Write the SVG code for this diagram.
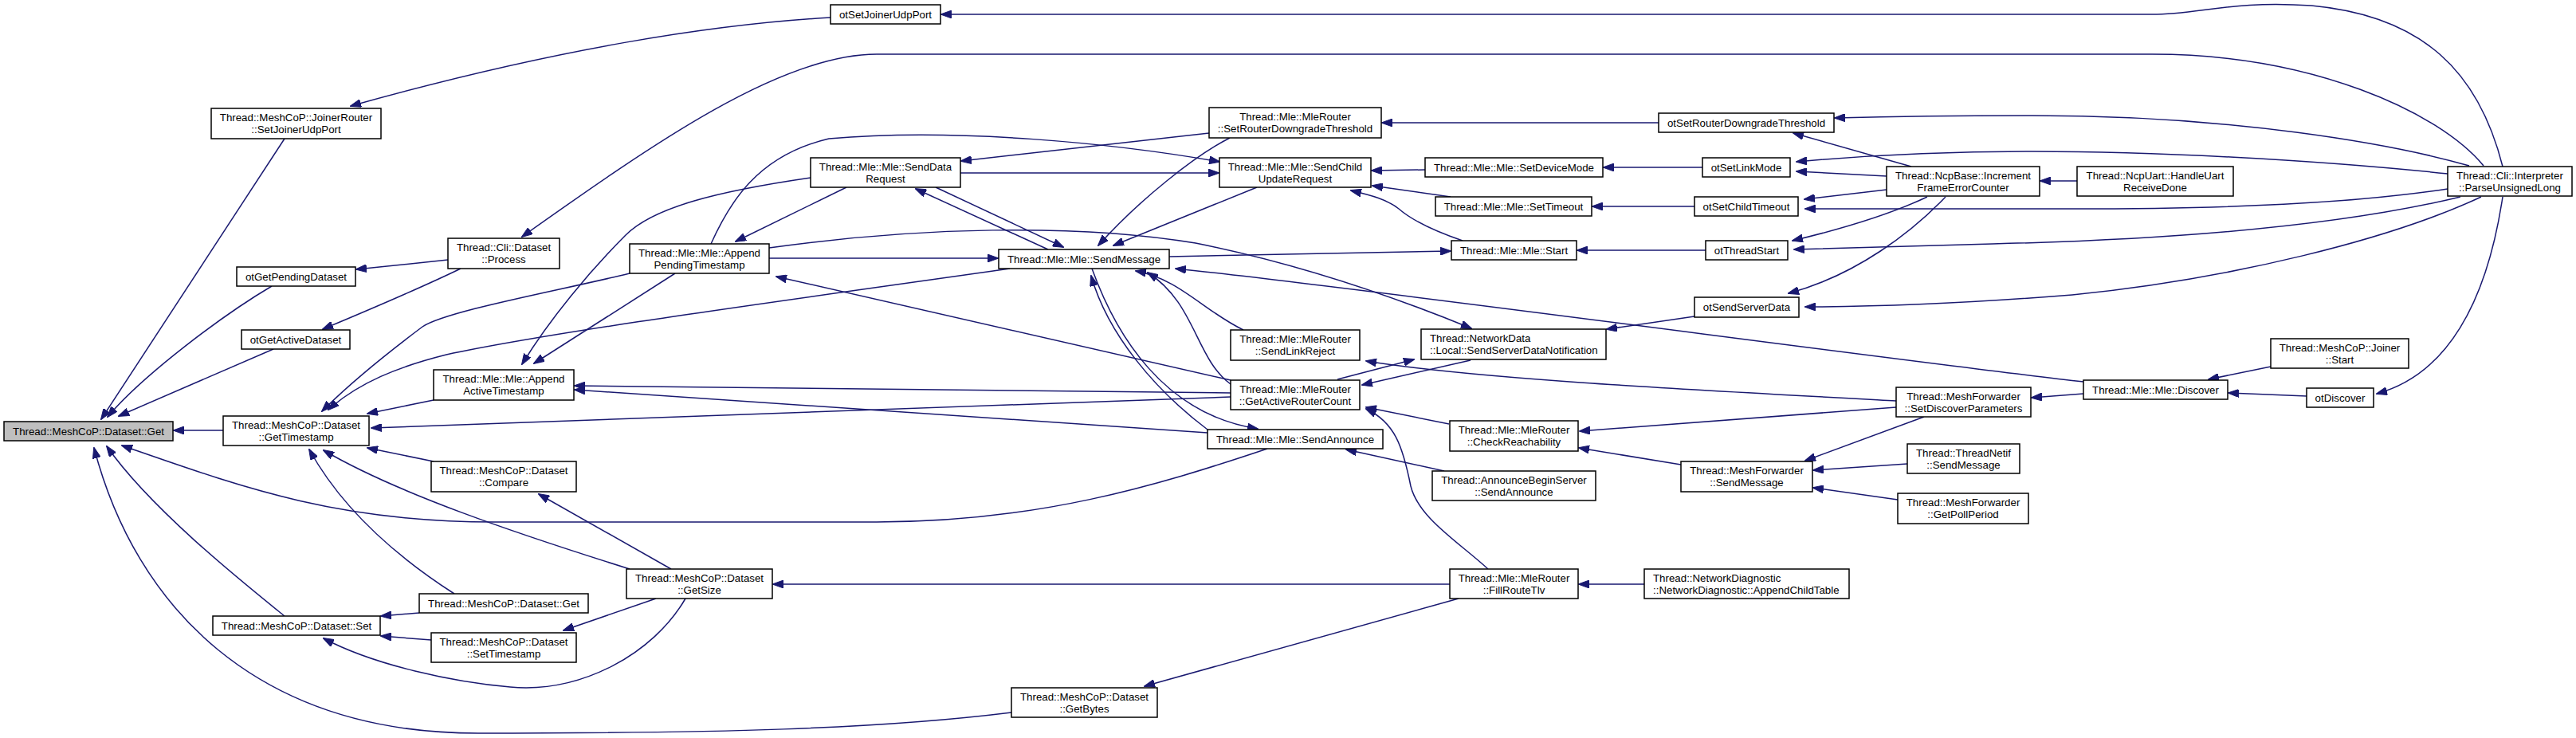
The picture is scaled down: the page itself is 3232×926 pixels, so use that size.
<svg xmlns="http://www.w3.org/2000/svg" width="3232" height="926" viewBox="0 0 3232 926">
<style>
.n rect{fill:#fff;stroke:#000;stroke-width:1.5}
.root rect{fill:#bfbfbf}
text{font-family:"Liberation Sans",Arial,Helvetica,sans-serif;font-size:13.3px;fill:#000;text-anchor:middle}
text.l{text-anchor:start}
.e path{fill:none;stroke:#191970;stroke-width:1.5;marker-end:url(#a)}
</style>
<defs>
<marker id="a" markerWidth="14" markerHeight="10" refX="13" refY="5" orient="auto" markerUnits="userSpaceOnUse"><path d="M0,0 L14,5 L0,10 z" fill="#191970" stroke="#191970" stroke-width="1"/></marker>
</defs>
<rect width="3232" height="926" fill="#fff"/>
<g class="e" id="edges">
<path d="M357,174 L127,526"/>
<path d="M341,359 C280,395 180,470 135,523"/>
<path d="M343,438 L149,522"/>
<path d="M280,540 L218,540"/>
<path d="M357,773 C310,735 190,640 134,560"/>
<path d="M1269,894 C1100,915 900,920 600,920 C320,920 170,760 118,562"/>
<path d="M1590,563 C1450,610 1300,655 1100,655 L620,655 C420,655 300,610 153,559"/>
<path d="M790,343 C700,365 560,390 530,410 C490,440 440,480 404,516"/>
<path d="M1267,337 C1000,375 700,415 560,445 C500,460 450,480 412,514"/>
<path d="M544,502 L461,519"/>
<path d="M1544,498 L466,537"/>
<path d="M544,579 L461,562"/>
<path d="M570,745 C500,700 430,640 388,564"/>
<path d="M790,714 C650,670 500,620 406,565"/>
<path d="M1017,223 C900,240 820,260 785,295 C740,340 690,400 655,457"/>
<path d="M847,343 L670,456"/>
<path d="M1062,235 L923,303"/>
<path d="M1544,477 L974,347"/>
<path d="M965,324 L1252,324"/>
<path d="M892,306 C915,255 950,195 1040,174 C1200,160 1400,180 1530,203"/>
<path d="M1205,217 L1529,217"/>
<path d="M1517,167 L1206,202"/>
<path d="M1543,173 C1500,195 1430,250 1378,308"/>
<path d="M1577,235 L1397,308"/>
<path d="M1174,235 L1334,310"/>
<path d="M1315,313 L1149,237"/>
<path d="M1560,414 C1510,390 1480,350 1425,340"/>
<path d="M1544,482 C1500,450 1500,380 1440,342"/>
<path d="M1515,539 C1450,490 1390,420 1369,346"/>
<path d="M1370,337 C1400,420 1460,520 1578,538"/>
<path d="M1467,322 L1820,315"/>
<path d="M965,311 C1150,285 1350,280 1500,305 C1650,335 1780,385 1846,412"/>
<path d="M2614,479 C2400,455 1700,360 1475,337"/>
<path d="M1678,476 L1774,451"/>
<path d="M1845,452 L1709,483"/>
<path d="M2379,503 C2100,488 1850,475 1714,453"/>
<path d="M1818,532 L1714,511"/>
<path d="M1867,714 C1830,680 1780,650 1770,610 C1760,560 1750,530 1714,513"/>
<path d="M1812,591 L1689,564"/>
<path d="M2081,154 L1734,154"/>
<path d="M1788,213 L1721,214"/>
<path d="M2136,210 L2012,210"/>
<path d="M1820,247 L1722,233"/>
<path d="M2126,259 L1998,259"/>
<path d="M1835,302 C1800,290 1770,275 1755,262 C1740,250 1720,245 1695,239"/>
<path d="M2140,314 L1979,314"/>
<path d="M2126,397 L2016,413"/>
<path d="M2398,209 L2250,167"/>
<path d="M2367,221 L2254,215"/>
<path d="M2367,238 L2264,250"/>
<path d="M2418,247 C2380,265 2320,285 2249,302"/>
<path d="M2441,247 C2400,290 2330,345 2244,368"/>
<path d="M2606,227 L2560,227"/>
<path d="M3140,209 C3110,90 3040,20 2900,7 C2800,0 2760,18 2700,18 L1181,18"/>
<path d="M3116,208 C3060,140 2900,68 2700,68 L1100,68 C980,68 820,180 655,297"/>
<path d="M3098,208 C3000,180 2800,145 2550,145 C2450,145 2380,146 2302,148"/>
<path d="M3071,218 C2900,200 2700,190 2550,190 C2420,190 2330,196 2254,203"/>
<path d="M3071,237 C2950,255 2800,262 2600,262 L2265,262"/>
<path d="M3087,247 C2950,280 2750,300 2500,306 L2251,313"/>
<path d="M3113,247 C3000,300 2800,350 2600,370 C2450,382 2350,385 2265,385"/>
<path d="M3140,247 C3120,380 3070,470 2982,494"/>
<path d="M2849,460 L2771,476"/>
<path d="M2894,497 L2796,493"/>
<path d="M2614,494 L2549,499"/>
<path d="M2379,511 L1982,541"/>
<path d="M2414,523 L2265,578"/>
<path d="M2393,582 L2275,590"/>
<path d="M2381,627 L2275,612"/>
<path d="M2109,583 L1981,562"/>
<path d="M2063,733 L1981,733"/>
<path d="M1819,733 L970,733"/>
<path d="M1830,751 L1436,861"/>
<path d="M842,714 L676,620"/>
<path d="M823,751 L707,791"/>
<path d="M860,751 C820,820 730,870 640,862 C570,856 470,835 406,801"/>
<path d="M526,769 L478,773"/>
<path d="M541,803 L478,798"/>
<path d="M562,326 L447,338"/>
<path d="M578,337 C520,365 460,390 405,413"/>
<path d="M1042,22 C900,30 700,60 440,133"/>
<path d="M1544,493 L721,484"/>
<path d="M1515,543 L721,489"/>
</g>
<g class="n root" id="n_get"><rect x="5" y="529" width="212" height="24"/><text x="111" y="545.5">Thread::MeshCoP::Dataset::Get</text></g>
<g class="n" id="n_gettimestamp"><rect x="280" y="522" width="183" height="37"/><text x="371.5" y="538">Thread::MeshCoP::Dataset</text><text x="371.5" y="552.5">::GetTimestamp</text></g>
<g class="n" id="n_set"><rect x="267" y="773" width="210" height="24"/><text x="372" y="789.5">Thread::MeshCoP::Dataset::Set</text></g>
<g class="n" id="n_joinerrouter"><rect x="265" y="136" width="213" height="38"/><text x="371.5" y="152">Thread::MeshCoP::JoinerRouter</text><text x="371.5" y="166.5">::SetJoinerUdpPort</text></g>
<g class="n" id="n_otgetpending"><rect x="297" y="335" width="149" height="24"/><text x="371.5" y="351.5">otGetPendingDataset</text></g>
<g class="n" id="n_otgetactive"><rect x="303" y="414" width="136" height="24"/><text x="371" y="430.5">otGetActiveDataset</text></g>
<g class="n" id="n_process"><rect x="562" y="299" width="140" height="38"/><text x="632" y="315">Thread::Cli::Dataset</text><text x="632" y="329.5">::Process</text></g>
<g class="n" id="n_appendactive"><rect x="544" y="464" width="176" height="38"/><text x="632" y="480">Thread::Mle::Mle::Append</text><text x="632" y="494.5">ActiveTimestamp</text></g>
<g class="n" id="n_compare"><rect x="541" y="579" width="182" height="38"/><text x="632" y="595">Thread::MeshCoP::Dataset</text><text x="632" y="609.5">::Compare</text></g>
<g class="n" id="n_get2"><rect x="526" y="745" width="212" height="24"/><text x="632" y="761.5">Thread::MeshCoP::Dataset::Get</text></g>
<g class="n" id="n_settimestamp"><rect x="541" y="794" width="182" height="37"/><text x="632" y="810">Thread::MeshCoP::Dataset</text><text x="632" y="824.5">::SetTimestamp</text></g>
<g class="n" id="n_getsize"><rect x="786" y="714" width="183" height="37"/><text x="877.5" y="730">Thread::MeshCoP::Dataset</text><text x="877.5" y="744.5">::GetSize</text></g>
<g class="n" id="n_appendpending"><rect x="790" y="306" width="175" height="37"/><text x="877.5" y="322">Thread::Mle::Mle::Append</text><text x="877.5" y="336.5">PendingTimestamp</text></g>
<g class="n" id="n_senddatarequest"><rect x="1017" y="198" width="188" height="37"/><text x="1111" y="214">Thread::Mle::Mle::SendData</text><text x="1111" y="228.5">Request</text></g>
<g class="n" id="n_otsetjoinerudpport"><rect x="1042" y="6" width="138" height="24"/><text x="1111" y="22.5">otSetJoinerUdpPort</text></g>
<g class="n" id="n_sendmessage"><rect x="1253" y="313" width="214" height="24"/><text x="1360" y="329.5">Thread::Mle::Mle::SendMessage</text></g>
<g class="n" id="n_getbytes"><rect x="1269" y="863" width="183" height="37"/><text x="1360.5" y="879">Thread::MeshCoP::Dataset</text><text x="1360.5" y="893.5">::GetBytes</text></g>
<g class="n" id="n_setrouterdt"><rect x="1517" y="135" width="216" height="38"/><text x="1625" y="151">Thread::Mle::MleRouter</text><text x="1625" y="165.5">::SetRouterDowngradeThreshold</text></g>
<g class="n" id="n_sendchildupd"><rect x="1530" y="198" width="190" height="37"/><text x="1625" y="214">Thread::Mle::Mle::SendChild</text><text x="1625" y="228.5">UpdateRequest</text></g>
<g class="n" id="n_sendlinkreject"><rect x="1544" y="414" width="162" height="38"/><text x="1625" y="430">Thread::Mle::MleRouter</text><text x="1625" y="444.5">::SendLinkReject</text></g>
<g class="n" id="n_getactiverc"><rect x="1544" y="477" width="162" height="37"/><text x="1625" y="493">Thread::Mle::MleRouter</text><text x="1625" y="507.5">::GetActiveRouterCount</text></g>
<g class="n" id="n_sendannounce"><rect x="1515" y="539" width="220" height="24"/><text x="1625" y="555.5">Thread::Mle::Mle::SendAnnounce</text></g>
<g class="n" id="n_setdevicemode"><rect x="1788" y="198" width="223" height="24"/><text x="1899.5" y="214.5">Thread::Mle::Mle::SetDeviceMode</text></g>
<g class="n" id="n_settimeout"><rect x="1801" y="247" width="196" height="24"/><text x="1899" y="263.5">Thread::Mle::Mle::SetTimeout</text></g>
<g class="n" id="n_mlestart"><rect x="1821" y="302" width="157" height="24"/><text x="1899.5" y="318.5">Thread::Mle::Mle::Start</text></g>
<g class="n" id="n_ssdn"><rect x="1783" y="413" width="232" height="38"/><text class="l" x="1794" y="429">Thread::NetworkData</text><text class="l" x="1794" y="443.5">::Local::SendServerDataNotification</text></g>
<g class="n" id="n_checkreach"><rect x="1819" y="528" width="161" height="38"/><text x="1899.5" y="544">Thread::Mle::MleRouter</text><text x="1899.5" y="558.5">::CheckReachability</text></g>
<g class="n" id="n_announcebegin"><rect x="1797" y="591" width="205" height="37"/><text x="1899.5" y="607">Thread::AnnounceBeginServer</text><text x="1899.5" y="621.5">::SendAnnounce</text></g>
<g class="n" id="n_fillroutetlv"><rect x="1819" y="714" width="161" height="37"/><text x="1899.5" y="730">Thread::Mle::MleRouter</text><text x="1899.5" y="744.5">::FillRouteTlv</text></g>
<g class="n" id="n_otsetrdt"><rect x="2081" y="142" width="220" height="24"/><text x="2191" y="158.5">otSetRouterDowngradeThreshold</text></g>
<g class="n" id="n_otsetlinkmode"><rect x="2136" y="198" width="110" height="24"/><text x="2191" y="214.5">otSetLinkMode</text></g>
<g class="n" id="n_otsetchildtimeout"><rect x="2126" y="247" width="130" height="24"/><text x="2191" y="263.5">otSetChildTimeout</text></g>
<g class="n" id="n_otthreadstart"><rect x="2140" y="302" width="103" height="24"/><text x="2191.5" y="318.5">otThreadStart</text></g>
<g class="n" id="n_otsendserverdata"><rect x="2126" y="373" width="131" height="25"/><text x="2191.5" y="390">otSendServerData</text></g>
<g class="n" id="n_mfsendmessage"><rect x="2109" y="579" width="165" height="38"/><text x="2191.5" y="595">Thread::MeshForwarder</text><text x="2191.5" y="609.5">::SendMessage</text></g>
<g class="n" id="n_appendchildtable"><rect x="2063" y="714" width="257" height="37"/><text class="l" x="2074" y="730">Thread::NetworkDiagnostic</text><text class="l" x="2074" y="744.5">::NetworkDiagnostic::AppendChildTable</text></g>
<g class="n" id="n_incframeerr"><rect x="2367" y="209" width="192" height="37"/><text x="2463" y="225">Thread::NcpBase::Increment</text><text x="2463" y="239.5">FrameErrorCounter</text></g>
<g class="n" id="n_handleuart"><rect x="2606" y="209" width="196" height="37"/><text x="2704" y="225">Thread::NcpUart::HandleUart</text><text x="2704" y="239.5">ReceiveDone</text></g>
<g class="n" id="n_setdiscoverparams"><rect x="2379" y="486" width="169" height="37"/><text x="2463.5" y="502">Thread::MeshForwarder</text><text x="2463.5" y="516.5">::SetDiscoverParameters</text></g>
<g class="n" id="n_threadnetifsend"><rect x="2393" y="557" width="141" height="37"/><text x="2463.5" y="573">Thread::ThreadNetif</text><text x="2463.5" y="587.5">::SendMessage</text></g>
<g class="n" id="n_getpollperiod"><rect x="2381" y="619" width="164" height="38"/><text x="2463" y="635">Thread::MeshForwarder</text><text x="2463" y="649.5">::GetPollPeriod</text></g>
<g class="n" id="n_discover"><rect x="2614" y="477" width="181" height="24"/><text x="2704.5" y="493.5">Thread::Mle::Mle::Discover</text></g>
<g class="n" id="n_joinerstart"><rect x="2849" y="425" width="173" height="37"/><text x="2935.5" y="441">Thread::MeshCoP::Joiner</text><text x="2935.5" y="455.5">::Start</text></g>
<g class="n" id="n_otdiscover"><rect x="2894" y="487" width="84" height="24"/><text x="2936" y="503.5">otDiscover</text></g>
<g class="n" id="n_parseul"><rect x="3071" y="209" width="156" height="37"/><text x="3149" y="225">Thread::Cli::Interpreter</text><text x="3149" y="239.5">::ParseUnsignedLong</text></g>
</svg>
